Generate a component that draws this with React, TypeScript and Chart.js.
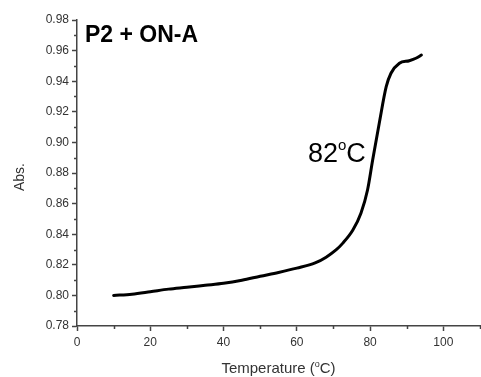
import { useEffect, useRef } from "react";
import { Chart, registerables } from "chart.js";

Chart.register(...registerables);

// Melting curve of P2 + ON-A: absorbance vs temperature
const temperature = [10, 15, 20, 25, 30, 35, 40, 45, 50, 55, 60, 65, 68, 70.7, 72.5, 75.3, 77.5, 79.3, 80.7, 82.5, 84.4, 85.7, 88, 90.7, 92.5, 94];
const absorbance = [0.8, 0.8008, 0.8024, 0.8041, 0.8053, 0.8066, 0.8079, 0.8099, 0.8125, 0.815, 0.8178, 0.8212, 0.825, 0.8297, 0.834, 0.8427, 0.8537, 0.8689, 0.8885, 0.9125, 0.9364, 0.9452, 0.9517, 0.9534, 0.955, 0.9571];

const xMajorTicks = [0, 20, 40, 60, 80, 100];
const xMinorTicks = [10, 30, 50, 70, 90, 110];
const yMajorTicks = [0.78, 0.8, 0.82, 0.84, 0.86, 0.88, 0.9, 0.92, 0.94, 0.96, 0.98];
const yMinorTicks = [0.79, 0.81, 0.83, 0.85, 0.87, 0.89, 0.91, 0.93, 0.95, 0.97];

const sampleLabel = "P2 + ON-A";
const tmLabel = "82";
const xTitle = ["Temperature (", "o", "C)"];
const yTitle = "Abs.";

const FONT = '"Liberation Sans", Arial, Helvetica, sans-serif';
const AXIS = "#444";
const TEXT = "#333";

const decorations = {
  id: "decorations",
  afterDraw(chart: any) {
    const { ctx, chartArea, scales } = chart;
    const xs = scales.x;
    const ys = scales.y;
    ctx.save();

    // minor ticks
    ctx.strokeStyle = AXIS;
    ctx.lineWidth = 1.5;
    ctx.beginPath();
    for (const v of xMinorTicks) {
      const px = Math.round(xs.getPixelForValue(v)) + 0.5;
      ctx.moveTo(px, chartArea.bottom);
      ctx.lineTo(px, chartArea.bottom + 3);
    }
    for (const v of yMinorTicks) {
      const py = Math.round(ys.getPixelForValue(v)) + 0.5;
      ctx.moveTo(chartArea.left - 3, py);
      ctx.lineTo(chartArea.left, py);
    }
    ctx.stroke();

    // y axis title
    ctx.fillStyle = TEXT;
    ctx.font = `14px ${FONT}`;
    ctx.textAlign = "center";
    ctx.textBaseline = "middle";
    ctx.save();
    ctx.translate(20, (chartArea.top + chartArea.bottom) / 2 + 4);
    ctx.rotate(-Math.PI / 2);
    ctx.fillText(yTitle, 0, 0);
    ctx.restore();

    // x axis title with superscript degree
    ctx.textAlign = "left";
    ctx.textBaseline = "alphabetic";
    const big = `15px ${FONT}`;
    const small = `9px ${FONT}`;
    ctx.font = big;
    const w0 = ctx.measureText(xTitle[0]).width;
    const w2 = ctx.measureText(xTitle[2]).width;
    ctx.font = small;
    const w1 = ctx.measureText(xTitle[1]).width;
    const total = w0 + w1 + w2;
    let x = (chartArea.left + chartArea.right) / 2 - total / 2;
    const base = 372.5;
    ctx.font = big;
    ctx.fillText(xTitle[0], x, base);
    x += w0;
    ctx.font = small;
    ctx.fillText(xTitle[1], x, base - 6);
    x += w1;
    ctx.font = big;
    ctx.fillText(xTitle[2], x, base);

    // sample label
    ctx.fillStyle = "#000";
    ctx.font = `bold 23px ${FONT}`;
    ctx.fillText(sampleLabel, 85, 42);

    // melting temperature label
    ctx.font = `27px ${FONT}`;
    let tx = 308;
    const tb = 162;
    ctx.fillText(tmLabel, tx, tb);
    tx += ctx.measureText(tmLabel).width;
    ctx.font = `15px ${FONT}`;
    ctx.fillText("o", tx, tb - 12);
    tx += ctx.measureText("o").width;
    ctx.font = `27px ${FONT}`;
    ctx.fillText("C", tx, tb);

    ctx.restore();
  },
};

export default function App() {
  const canvasRef = useRef<HTMLCanvasElement | null>(null);

  useEffect(() => {
    document.body.style.margin = "0";
    const canvas = canvasRef.current;
    if (!canvas) return;
    const chart = new Chart(canvas, {
      type: "line",
      data: {
        datasets: [
          {
            data: temperature.map((t, i) => ({ x: t, y: absorbance[i] })),
            borderColor: "#000",
            borderWidth: 3,
            pointRadius: 0,
            fill: false,
            cubicInterpolationMode: "monotone",
            borderCapStyle: "round",
            borderJoinStyle: "round",
          },
        ],
      },
      options: {
        responsive: false,
        animation: false,
        devicePixelRatio: 1,
        layout: { padding: { top: 20, right: 1, left: 0, bottom: 0 } },
        plugins: {
          legend: { display: false },
          tooltip: { enabled: false },
          title: { display: false },
        },
        scales: {
          x: {
            type: "linear",
            min: 0,
            max: 110,
            afterBuildTicks: (s: any) => {
              s.ticks = xMajorTicks.map((v) => ({ value: v }));
            },
            afterFit: (s: any) => {
              s.height = 51;
            },
            grid: {
              drawOnChartArea: false,
              drawTicks: true,
              tickLength: 5,
              tickColor: AXIS,
              tickWidth: 1.5,
            },
            border: { display: true, color: AXIS, width: 1.5 },
            ticks: {
              color: TEXT,
              font: { family: FONT, size: 12 },
              padding: 4,
              maxRotation: 0,
              callback: (v: any) => String(v),
            },
          },
          y: {
            type: "linear",
            min: 0.78,
            max: 0.98,
            afterBuildTicks: (s: any) => {
              s.ticks = yMajorTicks.map((v) => ({ value: v }));
            },
            afterFit: (s: any) => {
              s.width = 77;
            },
            grid: {
              drawOnChartArea: false,
              drawTicks: true,
              tickLength: 5,
              tickColor: AXIS,
              tickWidth: 1.5,
            },
            border: { display: true, color: AXIS, width: 1.5 },
            ticks: {
              color: TEXT,
              font: { family: FONT, size: 12 },
              padding: 3,
              callback: (v: any) => Number(v).toFixed(2),
            },
          },
        },
      },
      plugins: [decorations],
    });
    return () => chart.destroy();
  }, []);

  return (
    <div style={{ position: "absolute", left: 0, top: 0, width: 481, height: 377, background: "#fff" }}>
      <canvas ref={canvasRef} width={481} height={377} style={{ display: "block" }} />
    </div>
  );
}
